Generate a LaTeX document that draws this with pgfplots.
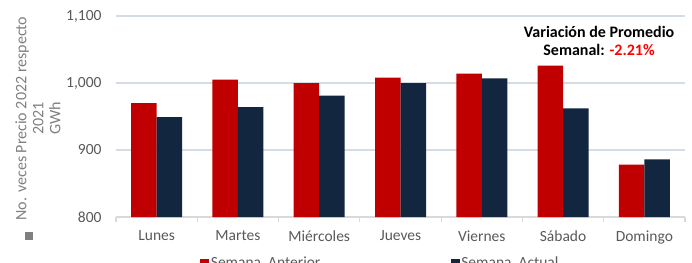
\documentclass[border=0pt]{standalone}
\usepackage{fontspec}
\setmainfont{Carlito}
\usepackage{pgfplots}
\pgfplotsset{compat=1.18}
\definecolor{barred}{HTML}{C00000}
\definecolor{barnavy}{HTML}{13263F}
\definecolor{gridc}{HTML}{D6DCE4}
\definecolor{axisc}{HTML}{D9D9D9}
\definecolor{tickc}{HTML}{595959}
\definecolor{labc}{HTML}{808080}
\newcommand\fs{\fontsize{15.5bp}{17bp}\selectfont}
\newcommand\fl{\fontsize{16bp}{17bp}\selectfont}
\newcommand\fb{\fontsize{16bp}{18bp}\selectfont\bfseries}
\begin{document}
\begin{tikzpicture}
\path[use as bounding box] (-116bp,-46bp) rectangle (576bp,217bp);
\begin{axis}[
  at={(0,0)}, anchor=south west,
  scale only axis, width=569bp, height=201bp,
  ybar=0pt, bar width=25.5bp,
  xmin=-0.5, xmax=6.5, ymin=800, ymax=1100,
  xtick={0,...,6},
  xticklabels={Lunes,Martes,Miércoles,Jueves,Viernes,Sábado,Domingo},
  minor xtick={-0.5,0.5,...,6.5},
  ytick={800,900,1000,1100},
  axis x line*=bottom, axis y line*=left,
  y axis line style={draw=none},
  x axis line style={draw=axisc, line width=1.2bp, -},
  major tick length=0pt, minor tick length=5bp,
  tick align=outside,
  minor tick style={draw=axisc, line width=1.2bp},
  ymajorgrids, grid style={draw=gridc, line width=1.8bp},
  /pgf/number format/.cd, 1000 sep={,}, assume math mode=true, /pgfplots/.cd,
  tick label style={font=\fs, text=tickc},
  yticklabel style={xshift=-11bp},
  xticklabel style={yshift=-10bp},
  ylabel={No. veces Precio 2022 respecto\\2021\\GWh},
  ylabel style={font=\fl, text=labc, align=center, at={(axis description cs:-0.137,0.49)}, anchor=center, rotate=0},
  legend columns=2,
  legend style={draw=none, fill=none, inner sep=0pt, anchor=west,
    at={(axis description cs:0.148,-0.229)}, font=\fs, text=tickc,
    column sep=0pt, nodes={inner sep=1.5bp},
    /tikz/every even column/.append style={column sep=129bp}},
  legend image code/.code={\draw[#1,draw=none] (0bp,-4.5bp) rectangle (9bp,4.5bp);},
  clip=false,
]
\addplot[fill=barred, draw=none] coordinates {(0,970) (1,1005) (2,1000) (3,1008) (4,1014) (5,1026) (6,878)};
\addlegendentry{Semana\ \ Anterior}
\addplot[fill=barnavy, draw=none] coordinates {(0,949) (1,964) (2,981) (3,1000) (4,1007) (5,962) (6,886)};
\addlegendentry{Semana\ \ Actual}
\node[font=\fb, align=center, text=black] at (axis description cs:0.849,0.876) {Variación de Promedio\\Semanal: \textcolor{red}{-2.21\%}};
\node[fill=labc, minimum size=8bp, inner sep=0pt] at (axis description cs:-0.153,-0.095) {};
\end{axis}
\end{tikzpicture}
\end{document}
